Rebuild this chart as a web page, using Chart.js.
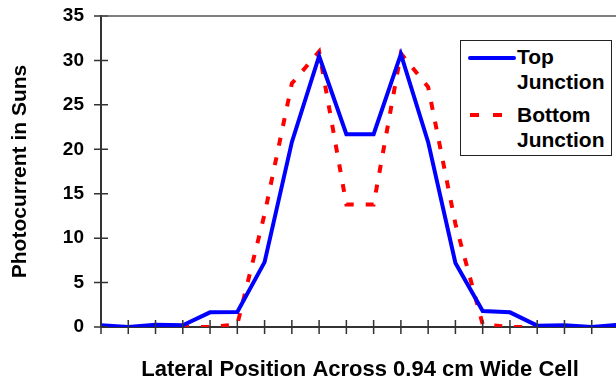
<!DOCTYPE html>
<html>
<head>
<meta charset="utf-8">
<title>Photocurrent across cell</title>
<script src="https://cdn.jsdelivr.net/npm/chart.js@4/dist/chart.umd.min.js"></script>
<style>
    html, body { margin: 0; padding: 0; background: #fff; }
    body { width: 616px; height: 384px; overflow: hidden; position: relative; }
    #chart { position: absolute; left: 0; top: 0; }
    #legend {
        position: absolute; left: 460px; top: 40px; width: 152px; height: 116px;
        box-sizing: border-box; border: 1.5px solid #222; background: #fff;
    }
    .entry {
        position: absolute; left: 56px; margin: 0;
        font: bold 21px/25px "Liberation Sans", Arial, sans-serif; color: #000; white-space: nowrap;
    }
    .swatch { position: absolute; left: 7px; }
</style>
</head>
<body>
<canvas id="chart" width="620" height="384"></canvas>
<div id="legend">
    <svg class="swatch" style="top:13px" width="48" height="8">
        <line x1="2" y1="4" x2="46" y2="4" stroke="#0000ff" stroke-width="4" stroke-linecap="round"/>
    </svg>
    <div class="entry" style="top:3px">Top<br>Junction</div>
    <svg class="swatch" style="top:70px" width="48" height="8">
        <line x1="2" y1="4" x2="34" y2="4" stroke="#ff0000" stroke-width="4" stroke-dasharray="9 14"/>
    </svg>
    <div class="entry" style="top:61px">Bottom<br>Junction</div>
</div>
<script>
// lateral positions across the cell (unlabelled category axis)
const positions = ['1', '2', '3', '4', '5', '6', '7', '8', '9', '10',
                   '11', '12', '13', '14', '15', '16', '17', '18', '19', '20'];

// photocurrent in suns
const topJunction    = [0.2, 0, 0.25, 0.2, 1.65, 1.7, 7.3, 20.8, 30.5, 21.7,
                        21.7, 30.7, 20.8, 7.2, 1.8, 1.65, 0.15, 0.2, 0, 0.25];
const bottomJunction = [0, 0, 0, 0, 0, 0.3, 12.7, 27.4, 31, 13.8,
                        13.8, 30.8, 27, 11.6, 0.3, 0, 0, 0, 0, 0];

const yTickValues = [0, 5, 10, 15, 20, 25, 30, 35];

const axisColor = '#333';
const boldFont = size => ({ family: '"Liberation Sans", Arial, sans-serif', size: size, weight: 'bold' });

/** Excel-style tick marks that cross the axis, plus the plot area's top edge */
const crossTicks = {
    id: 'crossTicks',
    afterDatasetsDraw(chart) {
        const { ctx, chartArea, scales: { x, y } } = chart;
        ctx.save();
        ctx.strokeStyle = axisColor;
        ctx.lineWidth = 1.5;
        ctx.beginPath();
        x.ticks.forEach((t, i) => {
            const px = x.getPixelForTick(i);
            ctx.moveTo(px, chartArea.bottom - 7);
            ctx.lineTo(px, chartArea.bottom + 7);
        });
        y.ticks.forEach((t, i) => {
            const py = y.getPixelForTick(i);
            ctx.moveTo(chartArea.left - 7, py);
            ctx.lineTo(chartArea.left + 7, py);
        });
        ctx.stroke();

        ctx.strokeStyle = '#555';
        ctx.beginPath();
        ctx.moveTo(chartArea.left, chartArea.top);
        ctx.lineTo(chartArea.right + 5, chartArea.top);
        ctx.stroke();
        ctx.restore();
    }
};

new Chart(document.getElementById('chart'), {
    type: 'line',
    data: {
        labels: positions,
        datasets: [
            {
                label: 'Top Junction',
                data: topJunction,
                borderColor: '#0000ff',
                borderWidth: 4,
                pointRadius: 0,
                tension: 0,
                fill: false
            },
            {
                label: 'Bottom Junction',
                data: bottomJunction,
                borderColor: '#ff0000',
                borderWidth: 4,
                borderDash: [8, 12],
                pointRadius: 0,
                tension: 0,
                fill: false
            }
        ]
    },
    options: {
        responsive: false,
        animation: false,
        layout: { padding: { top: 16, right: 1, left: 0, bottom: 0 } },
        plugins: {
            legend: { display: false },
            tooltip: { enabled: false }
        },
        scales: {
            x: {
                offset: false,
                grid: { drawOnChartArea: false, drawTicks: false },
                border: { color: axisColor, width: 2 },
                ticks: { display: false },
                title: {
                    display: true,
                    text: 'Lateral Position Across 0.94 cm Wide Cell',
                    color: '#000',
                    font: boldFont(22),
                    padding: { top: 0, bottom: 1 }
                },
                afterFit: scale => { scale.height = 57; }
            },
            y: {
                min: 0,
                max: 35,
                afterBuildTicks: scale => {
                    scale.ticks = yTickValues.map(v => ({ value: v }));
                },
                // invisible tick marks reserve the gap; the visible ones come from crossTicks
                grid: { drawOnChartArea: false, drawTicks: true, tickLength: 15, tickColor: 'rgba(0,0,0,0)' },
                border: { color: axisColor, width: 2 },
                ticks: { color: '#000', font: boldFont(19), padding: 2 },
                title: {
                    display: true,
                    text: 'Photocurrent in Suns',
                    color: '#000',
                    font: boldFont(21),
                    padding: { top: 8, bottom: 0 }
                },
                afterFit: scale => { scale.width = 101; }
            }
        }
    },
    plugins: [crossTicks]
});
</script>
</body>
</html>
